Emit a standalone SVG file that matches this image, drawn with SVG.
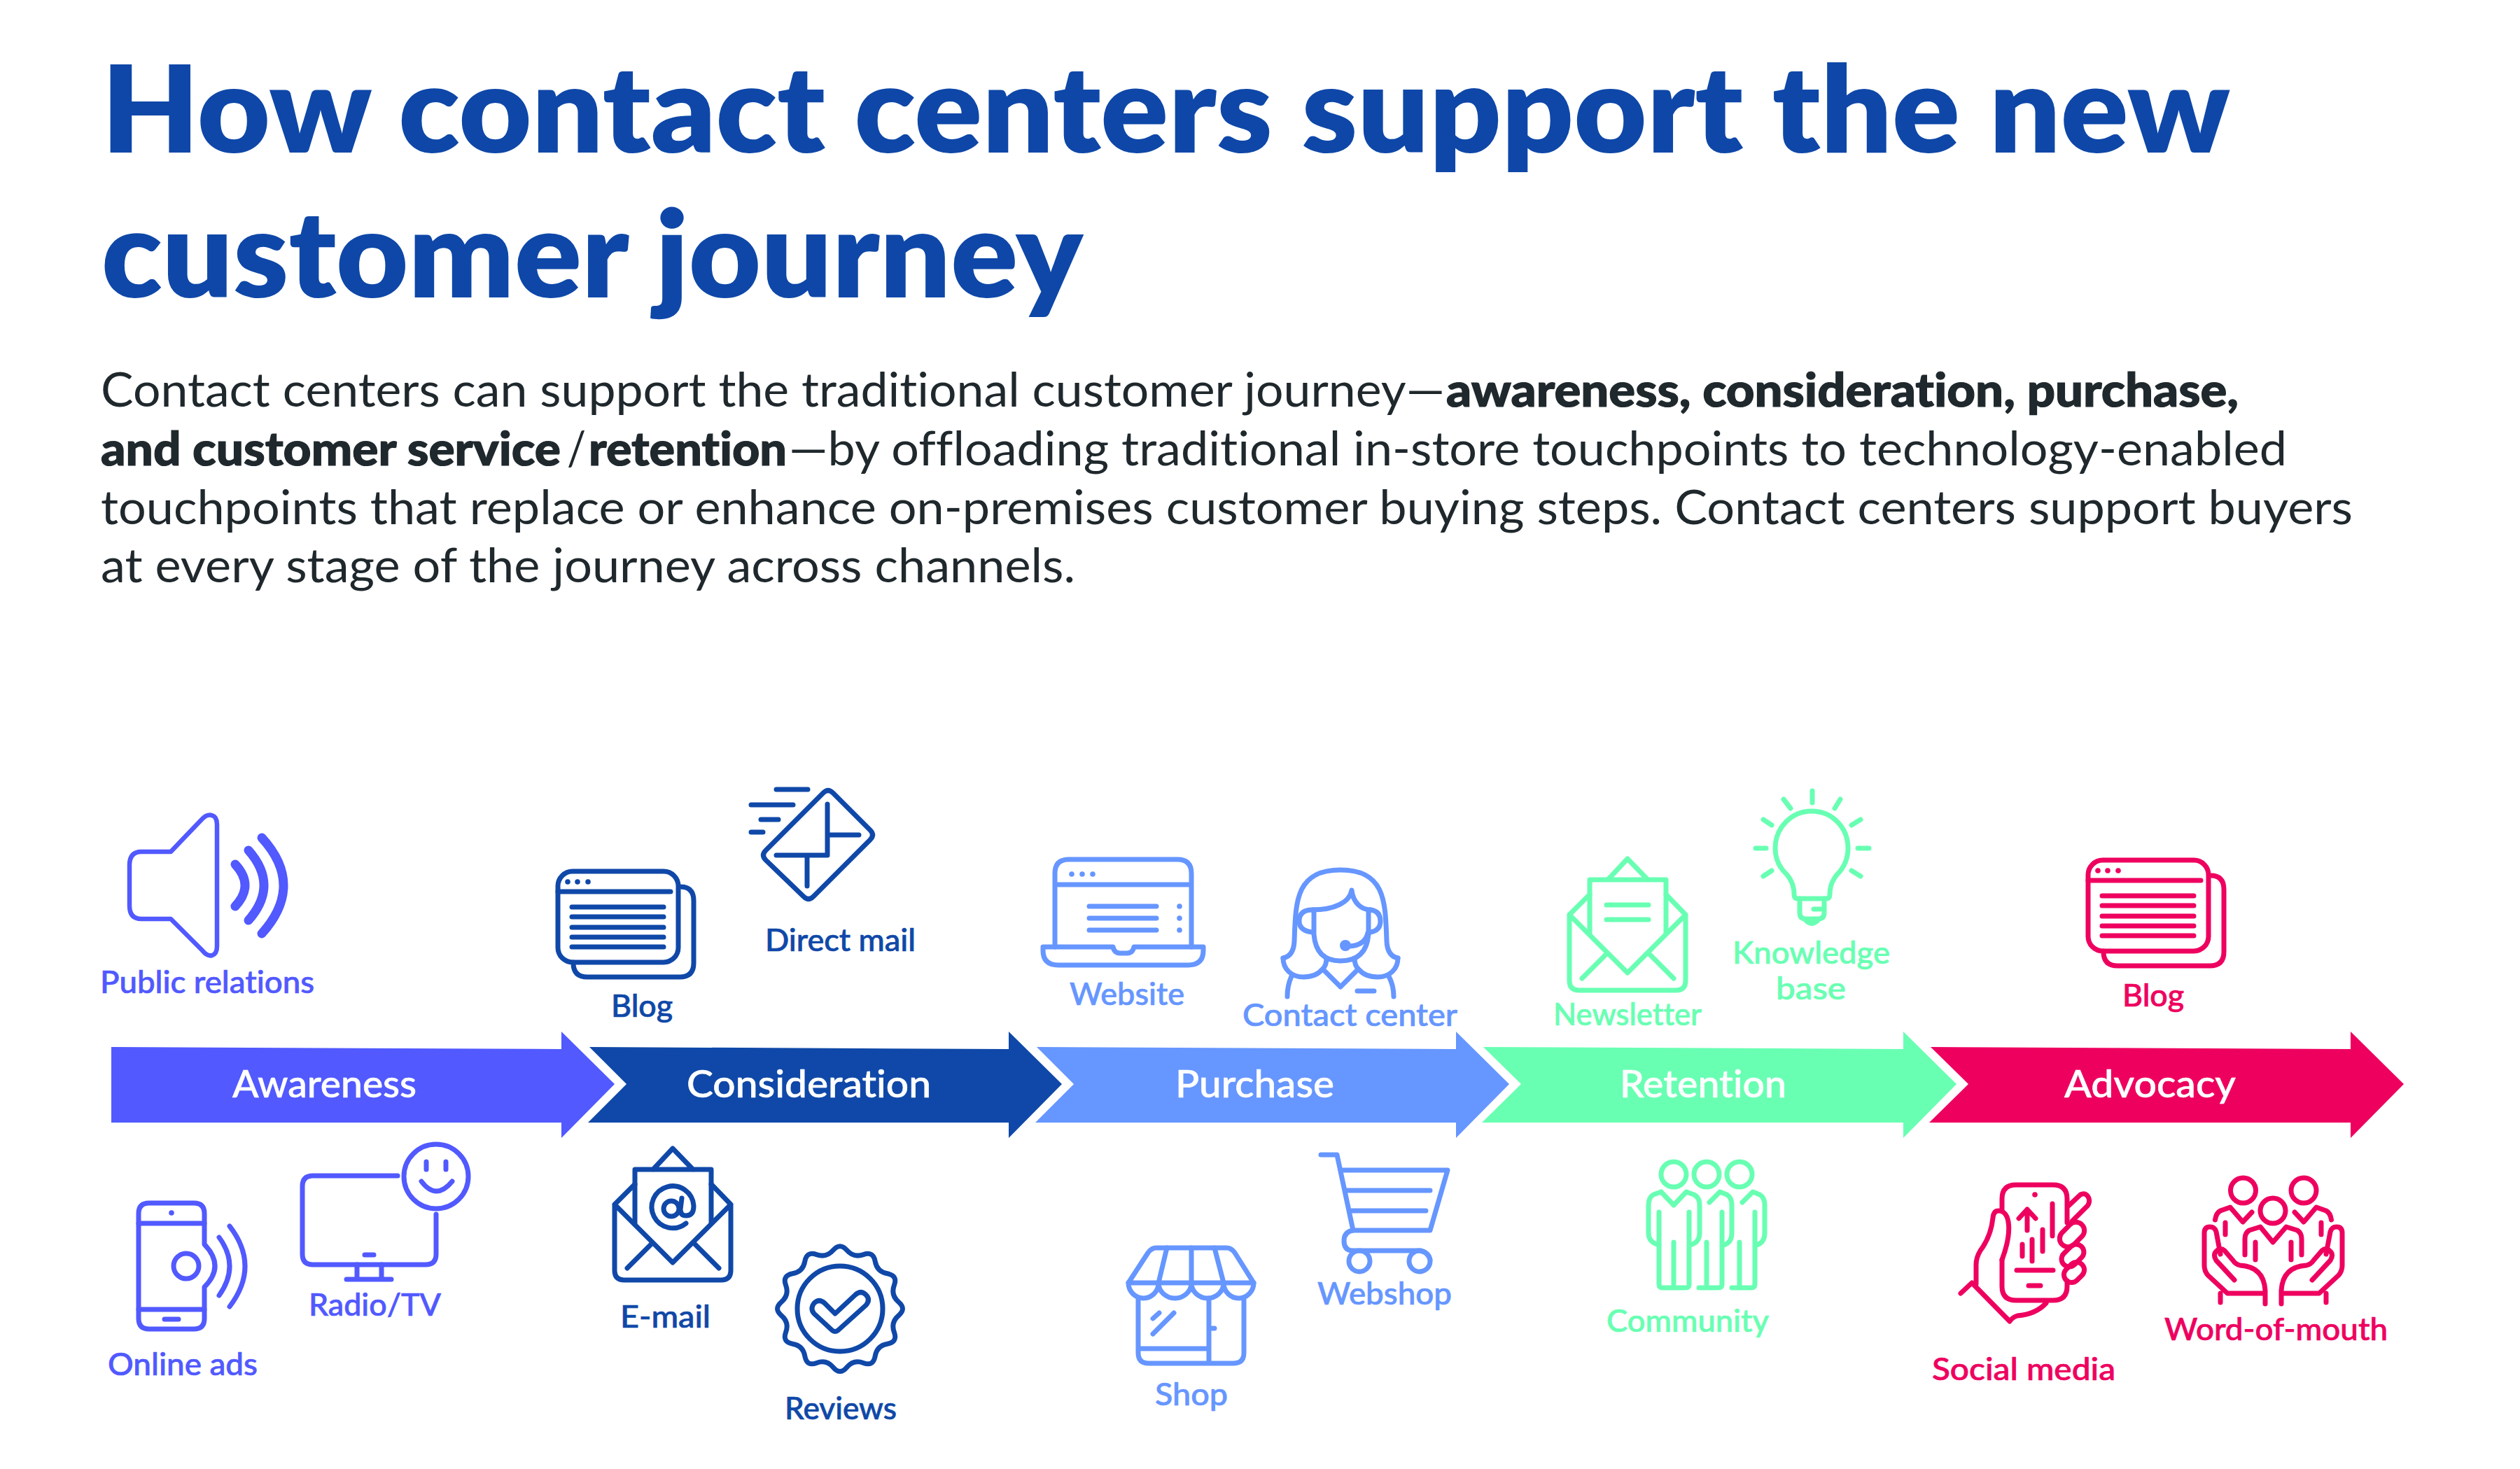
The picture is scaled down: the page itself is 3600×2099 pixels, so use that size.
<svg xmlns="http://www.w3.org/2000/svg" width="3600" height="2099" viewBox="0 0 3600 2099">
<style>
text{font-family:"Lato","Noto Sans","Liberation Sans",sans-serif;font-variant-ligatures:none}
.title{font-size:172px;font-weight:800;fill:#0e47a8}
.body{font-size:67px;font-weight:400;fill:#1f282c}
.b{font-weight:900;stroke:#1f282c;stroke-width:1.2}
.lab{font-size:44px;font-weight:500;fill:currentColor;stroke:currentColor;stroke-width:.7}
.st{font-size:54px;font-weight:500;fill:#fff;stroke:#fff;stroke-width:.6}
.i{fill:none;stroke:currentColor;stroke-width:7;stroke-linecap:round;stroke-linejoin:round}
.f{fill:currentColor;stroke:none}
.c1{color:#5159ff}.c2{color:#0f48a8}.c3{color:#6696ff}.c4{color:#69ffb3}.c5{color:#ee005f}
</style>
<defs>
<g id="blogIcon">
<rect x="797" y="1245" width="172" height="130" rx="21"/>
<path d="M797 1274H958M817 1296H948M817 1310H948M817 1325H948M817 1339H948M817 1353H948"/>
<path d="M972 1267Q991 1267 991 1287V1376Q991 1396 971 1396H839Q819 1396 819 1376V1375"/>
<circle class="f" cx="811" cy="1260" r="3.800"/><circle class="f" cx="825" cy="1260" r="3.800"/><circle class="f" cx="840" cy="1260" r="3.800"/>
</g>
<g id="envIcon">
<path d="M878 1721V1815Q878 1829 892 1829H1030Q1044 1829 1044 1815V1721L961 1804L878 1721L907 1692M1044 1721L1016 1692"/>
<path d="M907 1748V1671H1016V1748M933 1671L961 1641L990 1671M896 1812L930 1778M1027 1812L993 1778"/>
</g>
<g id="commBody">
<path d="M2442 1718L2457 1703L2467 1707Q2474 1711 2474 1722V1762Q2474 1775 2463 1779M2460 1732V1835Q2460 1840 2455 1840H2427M2438 1775V1840"/>
</g>
<g id="wHand">
<path d="M3172 1792L3166 1760Q3164 1753 3157 1753Q3149 1753 3149 1762V1808Q3149 1816 3154 1822L3182 1848H3236M3172 1848V1861M3236 1863V1844Q3234 1810 3200 1808Q3193 1806 3190 1801L3178 1787Q3172 1782 3166 1788Q3161 1793 3166 1801L3192 1829"/>
<path d="M3217 1732L3204 1746L3186 1725L3172 1730Q3166 1733 3164.500 1743M3179 1747V1764"/>
</g>
</defs>

<g id="title">
<text class="title" x="145" y="218" textLength="3041" lengthAdjust="spacingAndGlyphs">How contact centers support the new</text>
<text class="title" x="145" y="425" textLength="1402" lengthAdjust="spacingAndGlyphs">customer journey</text>
</g>

<g id="intro">
<text class="body" y="581"><tspan x="144" textLength="1920" lengthAdjust="spacingAndGlyphs">Contact centers can support the traditional customer journey—</tspan><tspan class="b" x="2066" textLength="1132" lengthAdjust="spacingAndGlyphs">awareness, consideration, purchase,</tspan></text>
<text class="body" y="665"><tspan class="b" x="144" textLength="657" lengthAdjust="spacingAndGlyphs">and customer service</tspan><tspan x="810" textLength="27" lengthAdjust="spacingAndGlyphs">/</tspan><tspan class="b" x="841" textLength="283" lengthAdjust="spacingAndGlyphs">retention</tspan><tspan x="1127" textLength="2140" lengthAdjust="spacingAndGlyphs">—by offloading traditional in-store touchpoints to technology-enabled</tspan></text>
<text class="body" y="749" x="144" textLength="3217" lengthAdjust="spacingAndGlyphs">touchpoints that replace or enhance on-premises customer buying steps. Contact centers support buyers</text>
<text class="body" y="832" x="144" textLength="1392" lengthAdjust="spacingAndGlyphs">at every stage of the journey across channels.</text>
</g>

<g id="stage-awareness">
<polygon fill="#5159ff" points="159,1496 802,1499 802,1474 878,1549 802,1626 802,1604 159,1604"/>
<text class="st" x="332" y="1568" textLength="263" lengthAdjust="spacingAndGlyphs">Awareness</text>
</g>
<g id="stage-consideration">
<polygon fill="#0f48a8" points="842,1496 1441,1499 1441,1474 1517,1549 1441,1626 1441,1604 840,1604 895,1549"/>
<text class="st" x="981" y="1568" textLength="349" lengthAdjust="spacingAndGlyphs">Consideration</text>
</g>
<g id="stage-purchase">
<polygon fill="#6696ff" points="1481,1496 2080,1499 2080,1474 2156,1549 2080,1626 2080,1604 1479,1604 1534,1549"/>
<text class="st" x="1679" y="1568" textLength="227" lengthAdjust="spacingAndGlyphs">Purchase</text>
</g>
<g id="stage-retention">
<polygon fill="#69ffb3" points="2119,1496 2719,1499 2719,1474 2795,1549 2719,1626 2719,1604 2117,1604 2173,1549"/>
<text class="st" x="2314" y="1568" textLength="238" lengthAdjust="spacingAndGlyphs">Retention</text>
</g>
<g id="stage-advocacy">
<polygon fill="#ee005f" points="2758,1496 3358,1499 3358,1474 3434,1549 3358,1626 3358,1604 2756,1604 2812,1549"/>
<text class="st" x="2949" y="1568" textLength="245" lengthAdjust="spacingAndGlyphs">Advocacy</text>
</g>

<g id="public-relations" class="c1">
<g class="i">
<path stroke-width="6.500" d="M202 1217H244L289 1170Q296 1163 303 1165Q310 1167 310 1178V1352Q310 1363 303 1365Q296 1367 289 1358L244 1313H202Q185 1313 185 1294V1236Q185 1217 202 1217Z"/>
<path stroke-width="13" d="M336 1235Q364 1265 336 1295M355 1215Q399 1265 355 1315M374 1197Q436 1265 374 1334"/>
</g>
<text class="lab" x="143" y="1419" textLength="306" lengthAdjust="spacingAndGlyphs">Public relations</text>
</g>

<g id="online-ads" class="c1">
<g class="i">
<path d="M292 1778V1734Q292 1719 277 1719H213Q198 1719 198 1734V1884Q198 1899 213 1899H277Q292 1899 292 1884V1839Q322 1809 292 1778Z"/>
<path d="M198 1748H292M198 1871H292M235 1885H255"/>
<circle cx="266" cy="1809" r="18"/>
<path d="M313 1768Q343 1809 313 1851M328 1752Q372 1809 328 1867"/>
</g>
<circle class="f" cx="245" cy="1733" r="3.800"/>
<text class="lab" x="154" y="1965" textLength="214" lengthAdjust="spacingAndGlyphs">Online ads</text>
</g>

<g id="radio-tv" class="c1">
<g class="i">
<path d="M568 1680H447Q432 1680 432 1695V1792Q432 1807 447 1807H608Q623 1807 623 1792V1735"/>
<circle cx="623" cy="1681" r="46"/>
<path d="M609 1660V1671M637 1660V1671M602 1688Q623 1716 646 1688"/>
<path d="M510 1807V1828M545 1807V1828M495 1828H559M521 1793H534"/>
</g>
<text class="lab" x="441" y="1880" textLength="189" lengthAdjust="spacingAndGlyphs">Radio/TV</text>
</g>

<g id="blog-consideration" class="c2">
<use href="#blogIcon" class="i"/>
<text class="lab" x="873" y="1453" textLength="88" lengthAdjust="spacingAndGlyphs">Blog</text>
</g>

<g id="direct-mail" class="c2">
<g class="i">
<path d="M1176 1133Q1183 1126 1190 1133L1243 1186Q1250 1193 1243 1200L1162 1281Q1155 1288 1148 1281L1094 1229Q1087 1222 1094 1215Z"/>
<path d="M1182 1149V1222H1109M1182 1193H1227M1153 1222V1266"/>
<path d="M1109 1128H1154M1073 1150H1133M1087 1171H1112M1073 1189H1090"/>
</g>
<text class="lab" x="1093" y="1359" textLength="215" lengthAdjust="spacingAndGlyphs">Direct mail</text>
</g>

<g id="e-mail" class="c2">
<g class="i">
<use href="#envIcon"/>
<path d="M980 1748A30 30 0 1 1 991 1723Q991 1737 980 1737Q972 1737 972 1728L974 1712"/>
<circle cx="959" cy="1727" r="11"/>
</g>
<text class="lab" x="886" y="1897" textLength="129" lengthAdjust="spacingAndGlyphs">E-mail</text>
</g>

<g id="reviews" class="c2">
<g class="i">
<path transform="translate(1200 1870)" d="M-9.700 -83.700Q0 -95 9.700 -83.700T33.500 -77.400T50.200 -67.700T67.700 -50.200T77.400 -33.500T83.700 -9.700T83.700 9.700T77.400 33.500T67.700 50.200T50.200 67.700T33.500 77.400T9.700 83.700T-9.700 83.700T-33.500 77.400T-50.200 67.700T-67.700 50.200T-77.400 33.500T-83.700 9.700T-83.700 -9.700T-77.400 -33.500T-67.700 -50.200T-50.200 -67.700T-33.500 -77.400T-9.700 -83.700Z"/>
<circle cx="1200" cy="1870" r="61"/>
<path d="M1193 1877L1178 1862Q1170 1855 1163 1862Q1157 1870 1163 1877L1189 1901Q1193 1904 1197 1901L1237 1865Q1244 1857 1237 1850Q1230 1843 1222 1850Z"/>
</g>
<text class="lab" x="1121" y="2028" textLength="160" lengthAdjust="spacingAndGlyphs">Reviews</text>
</g>

<g id="website" class="c3">
<g class="i">
<path d="M1507 1353V1248Q1507 1228 1527 1228H1682Q1702 1228 1702 1248V1353M1507 1264H1702M1556 1295H1652M1556 1312H1652M1556 1329H1652"/>
<path d="M1590 1353H1490V1358Q1490 1379 1512 1379H1697Q1719 1379 1719 1358V1353H1620Q1618 1362 1610 1362H1600Q1592 1362 1590 1353Z"/>
</g>
<circle class="f" cx="1531" cy="1249" r="3.800"/><circle class="f" cx="1546" cy="1249" r="3.800"/><circle class="f" cx="1561" cy="1249" r="3.800"/>
<circle class="f" cx="1685" cy="1295" r="3.800"/><circle class="f" cx="1685" cy="1312" r="3.800"/><circle class="f" cx="1685" cy="1329" r="3.800"/>
<text class="lab" x="1528" y="1436" textLength="164" lengthAdjust="spacingAndGlyphs">Website</text>
</g>

<g id="contact-center" class="c3">
<g class="i">
<path d="M1833 1369Q1848 1366 1849 1345C1851 1290 1850 1243 1915 1243C1980 1243 1979 1290 1981 1345Q1982 1366 1997 1369"/>
<path d="M1833 1369C1833 1385 1845 1396 1862 1396Q1880 1396 1889 1385Q1895 1380 1895 1369M1997 1369C1997 1385 1985 1396 1968 1396Q1950 1396 1941 1385Q1935 1380 1935 1369"/>
<path d="M1877 1300V1335Q1880 1373 1915 1373Q1952 1373 1955 1335V1302"/>
<path d="M1875 1300C1905 1300 1928 1290 1931 1272C1933 1290 1945 1300 1958 1300"/>
<path d="M1875 1300Q1856 1300 1856 1316Q1856 1330 1875 1332M1958 1300Q1972 1302 1972 1316Q1972 1330 1957 1332"/>
<path d="M1954 1333Q1950 1352 1925 1352"/>
<path d="M1892 1387L1915 1410L1938 1387M1845 1395Q1839 1408 1839 1424M1984 1395Q1991 1408 1991 1424M1939 1416H1963"/>
</g>
<circle class="f" cx="1922" cy="1351" r="8"/>
<text class="lab" x="1775" y="1466" textLength="307" lengthAdjust="spacingAndGlyphs">Contact center</text>
</g>

<g id="shop" class="c3">
<g class="i">
<path d="M1612 1833L1640 1790Q1645 1783 1652 1783H1752Q1759 1783 1764 1790L1791 1833Z"/>
<path d="M1667 1783L1655 1833M1702 1783V1833M1735 1783L1748 1833"/>
<path d="M1612 1833A21.500 22 0 0 0 1655 1833A23.500 22 0 0 0 1702 1833A23 22 0 0 0 1748 1833A21.500 22 0 0 0 1791 1833"/>
<path d="M1626 1855V1933Q1626 1948 1641 1948H1762Q1777 1948 1777 1933V1855M1727 1855V1948M1626 1927H1727M1727 1898H1735M1647 1884L1656 1876M1647 1906L1677 1876"/>
</g>
<text class="lab" x="1650" y="2008" textLength="104" lengthAdjust="spacingAndGlyphs">Shop</text>
</g>

<g id="webshop" class="c3">
<g class="i">
<path d="M1887 1650H1910L1933 1758"/>
<path d="M1917 1672H2068L2043 1758H1933Q1920 1760 1920 1773Q1920 1787 1933 1787H2028Q2040 1789 2043 1800"/>
<path d="M1923 1701H2043M1930 1730H2037"/>
<circle cx="1942" cy="1802" r="15"/><circle cx="2028" cy="1802" r="15"/>
</g>
<text class="lab" x="1882" y="1864" textLength="192" lengthAdjust="spacingAndGlyphs">Webshop</text>
</g>

<g id="newsletter" class="c4">
<g class="i">
<use href="#envIcon" transform="translate(1364 -414)"/>
<path d="M2295 1293H2355M2295 1314H2355"/>
</g>
<text class="lab" x="2219" y="1465" textLength="212" lengthAdjust="spacingAndGlyphs">Newsletter</text>
</g>

<g id="knowledge-base" class="c4">
<g class="i">
<path d="M2568 1284Q2563 1284 2563 1278Q2563 1262 2553 1250C2542 1240 2536 1228 2536 1212C2536 1182 2560 1159 2588 1159C2617 1159 2640 1182 2640 1212C2640 1228 2634 1240 2624 1250Q2614 1262 2614 1278Q2614 1284 2609 1284Z"/>
<path d="M2571 1284V1304Q2571 1313 2580 1313H2597Q2606 1313 2606 1304V1284M2579 1314Q2588 1325 2598 1314M2591 1299H2606"/>
<path d="M2589 1130V1147M2548 1142L2558 1155M2629 1142L2621 1155M2519 1171L2531 1179M2658 1171L2645 1179M2508 1212H2523M2654 1212H2670M2519 1252L2531 1244M2658 1252L2645 1244"/>
</g>
<text class="lab" x="2475" y="1377" textLength="225" lengthAdjust="spacingAndGlyphs">Knowledge</text>
<text class="lab" x="2537" y="1428" textLength="100" lengthAdjust="spacingAndGlyphs">base</text>
</g>

<g id="community" class="c4">
<g class="i">
<circle cx="2391" cy="1678" r="18"/><circle cx="2438" cy="1678" r="18"/><circle cx="2485" cy="1678" r="18"/>
<path d="M2373 1703L2391 1722L2409 1703L2420 1707Q2428 1711 2428 1722V1762Q2428 1775 2415 1779M2373 1703L2362 1707Q2355 1711 2355 1722V1762Q2355 1775 2370 1779"/>
<path d="M2370 1732V1835Q2370 1840 2375 1840H2408Q2413 1840 2413 1835V1732M2391 1775V1840"/>
<use href="#commBody"/>
<use href="#commBody" transform="translate(47 0)"/>
</g>
<text class="lab" x="2295" y="1903" textLength="232" lengthAdjust="spacingAndGlyphs">Community</text>
</g>

<g id="blog-advocacy" class="c5">
<use href="#blogIcon" class="i" transform="translate(2186 -16)"/>
<text class="lab" x="3032" y="1438" textLength="88" lengthAdjust="spacingAndGlyphs">Blog</text>
</g>

<g id="social-media" class="c5">
<g class="i">
<path d="M2860 1728V1713Q2860 1693 2880 1693H2933Q2953 1693 2953 1713V1747M2953 1830V1838Q2953 1858 2933 1858H2880Q2860 1858 2860 1838V1800"/>
<path d="M2896 1728V1758M2884 1741L2896 1728L2908 1741M2932 1720V1766M2918 1757V1788M2903 1771V1802M2889 1778V1795M2881 1815H2933M2898 1837H2915"/>
<path d="M2860 1800C2875 1760 2872 1730 2855 1730Q2848 1730 2847 1740C2845 1760 2838 1775 2829 1787Q2823 1797 2823 1807V1835M2801 1848L2817 1833L2871 1888Q2875 1882 2882 1880Q2908 1878 2923 1862"/>
<path d="M2955 1723L2972 1707Q2980 1703 2984 1712Q2986 1718 2982 1723L2960 1745"/>
<rect x="2940" y="1752" width="40" height="24" rx="12" transform="rotate(-45 2960 1764)"/>
<rect x="2943" y="1783" width="36" height="22" rx="11" transform="rotate(-45 2961 1794)"/>
<rect x="2947" y="1807" width="32" height="22" rx="11" transform="rotate(-45 2963 1818)"/>
</g>
<circle class="f" cx="2907" cy="1707" r="3.800"/>
<text class="lab" x="2760" y="1972" textLength="262" lengthAdjust="spacingAndGlyphs">Social media</text>
</g>

<g id="word-of-mouth" class="c5">
<g class="i">
<ellipse cx="3204.500" cy="1701" rx="18" ry="18"/><ellipse cx="3291" cy="1701" rx="18" ry="18"/><ellipse cx="3247" cy="1730" rx="18" ry="18"/>
<path d="M3207 1793V1770Q3207 1762 3213 1758L3229 1753L3247 1775L3266 1753L3282 1758Q3288 1762 3288 1770V1793M3222 1775V1800M3273 1775V1800"/>
<use href="#wHand"/>
<use href="#wHand" transform="translate(6495 0) scale(-1 1)"/>
</g>
<text class="lab" x="3092" y="1915" textLength="319" lengthAdjust="spacingAndGlyphs">Word-of-mouth</text>
</g>
</svg>
